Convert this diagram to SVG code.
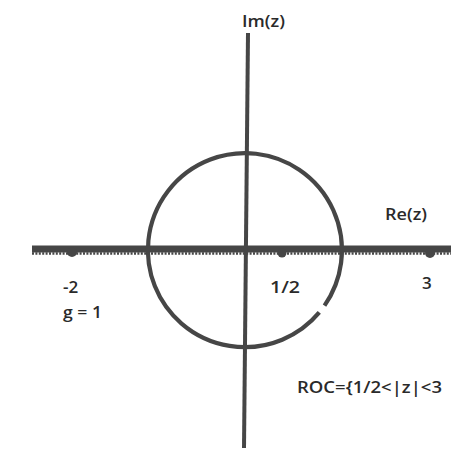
<svg xmlns="http://www.w3.org/2000/svg" width="451" height="450" viewBox="0 0 451 450">
<style>
.lbl{font-family:"Open Sans","Liberation Sans",Arial,sans-serif;font-size:17px;font-weight:600;fill:#2a2a2a}
.ax{stroke:#464646;fill:none}
.mk{fill:#464646}
</style>
<rect width="451" height="450" fill="#fff"/>
<g id="connectors">
  <g id="real-axis">
    <line class="ax" x1="32" y1="249" x2="451" y2="249" stroke-width="7"/>
    <line class="ax" x1="32" y1="253.5" x2="451" y2="253.5" stroke-width="2.4" stroke-dasharray="2 1.4"/>
  </g>
  <line id="imag-axis" class="ax" x1="248" y1="33" x2="244" y2="448" stroke-width="4"/>
  <path id="roc-circle" class="ax" stroke-width="4.2" d="M319.3,312.4 A97,97 0 1 1 324.5,305.6"/>
</g>
<g id="pole-neg2"><circle class="mk" cx="72" cy="252" r="5"/></g>
<g id="zero-half"><circle class="mk" cx="282" cy="253" r="4.5"/></g>
<g id="pole-3"><circle class="mk" cx="430" cy="253" r="5"/></g>
<g id="labels">
  <text class="lbl" x="242" y="27" textLength="43" lengthAdjust="spacingAndGlyphs">Im(z)</text>
  <text class="lbl" x="385" y="220" textLength="42" lengthAdjust="spacingAndGlyphs">Re(z)</text>
  <text class="lbl" x="63" y="293">-2</text>
  <text class="lbl" x="63" y="318" textLength="39" lengthAdjust="spacingAndGlyphs">g = 1</text>
  <text class="lbl" x="270" y="293" textLength="30" lengthAdjust="spacingAndGlyphs">1/2</text>
  <text class="lbl" x="422" y="289">3</text>
  <text class="lbl" x="297" y="393" textLength="145" lengthAdjust="spacingAndGlyphs">ROC={1/2&lt;|z|&lt;3</text>
</g>
</svg>
